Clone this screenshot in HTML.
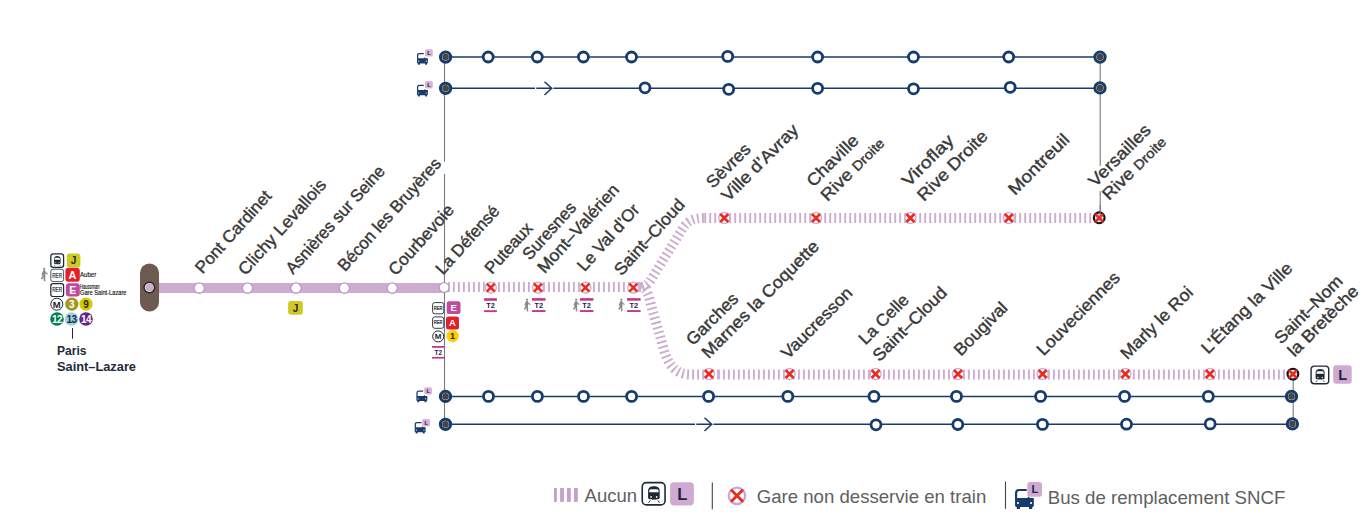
<!DOCTYPE html>
<html><head><meta charset="utf-8"><style>
html,body{margin:0;padding:0;background:#fff;}
svg{display:block;font-family:"Liberation Sans",sans-serif;}
</style></head><body>
<svg width="1372" height="518" viewBox="0 0 1372 518">
<path d="M444.5 57V161.7M444.5 173.9V424M1100.2 57V166M1100.2 191.2V212M1293.2 374V424" stroke="#7a7a7a" stroke-width="1.1" fill="none"/>
<path d="M445 57.1H1100" stroke="#173c6b" stroke-width="1.5" fill="none"/>
<path d="M445 88.3H1100" stroke="#173c6b" stroke-width="1.5" fill="none"/>
<path d="M445 396.4H1292" stroke="#173c6b" stroke-width="1.5" fill="none"/>
<path d="M445 424.3H1292" stroke="#173c6b" stroke-width="1.5" fill="none"/>
<rect x="535.0" y="86.3" width="18.4" height="4" fill="#fff"/>
<path d="M536.3 88.3H551.3M544.5 81.8L551.6999999999999 88.3L544.5 95.0" stroke="#173c6b" stroke-width="1.5" fill="none"/>
<rect x="695.0" y="422.3" width="18.4" height="4" fill="#fff"/>
<path d="M696.3 424.3H711.3M704.5 417.8L711.6999999999999 424.3L704.5 431.0" stroke="#173c6b" stroke-width="1.5" fill="none"/>
<circle cx="488.2" cy="57" r="5" fill="#fff" stroke="#173c6b" stroke-width="2.8"/>
<circle cx="537.3" cy="57" r="5" fill="#fff" stroke="#173c6b" stroke-width="2.8"/>
<circle cx="583.4" cy="57" r="5" fill="#fff" stroke="#173c6b" stroke-width="2.8"/>
<circle cx="631.5" cy="57" r="5" fill="#fff" stroke="#173c6b" stroke-width="2.8"/>
<circle cx="727.7" cy="56.4" r="5" fill="#fff" stroke="#173c6b" stroke-width="2.8"/>
<circle cx="817.6" cy="57" r="5" fill="#fff" stroke="#173c6b" stroke-width="2.8"/>
<circle cx="913.5" cy="57" r="5" fill="#fff" stroke="#173c6b" stroke-width="2.8"/>
<circle cx="1008.7" cy="57" r="5" fill="#fff" stroke="#173c6b" stroke-width="2.8"/>
<circle cx="645" cy="87.8" r="5" fill="#fff" stroke="#173c6b" stroke-width="2.8"/>
<circle cx="728.7" cy="89.3" r="5" fill="#fff" stroke="#173c6b" stroke-width="2.8"/>
<circle cx="817.6" cy="88.3" r="5" fill="#fff" stroke="#173c6b" stroke-width="2.8"/>
<circle cx="913.5" cy="88.8" r="5" fill="#fff" stroke="#173c6b" stroke-width="2.8"/>
<circle cx="1010.2" cy="87.3" r="5" fill="#fff" stroke="#173c6b" stroke-width="2.8"/>
<circle cx="488.5" cy="396.4" r="5" fill="#fff" stroke="#173c6b" stroke-width="2.8"/>
<circle cx="537.4" cy="396.4" r="5" fill="#fff" stroke="#173c6b" stroke-width="2.8"/>
<circle cx="583.5" cy="396.4" r="5" fill="#fff" stroke="#173c6b" stroke-width="2.8"/>
<circle cx="631.6" cy="396.4" r="5" fill="#fff" stroke="#173c6b" stroke-width="2.8"/>
<circle cx="708.6" cy="396.4" r="5" fill="#fff" stroke="#173c6b" stroke-width="2.8"/>
<circle cx="787.8" cy="396.4" r="5" fill="#fff" stroke="#173c6b" stroke-width="2.8"/>
<circle cx="874" cy="396.4" r="5" fill="#fff" stroke="#173c6b" stroke-width="2.8"/>
<circle cx="956.5" cy="396.4" r="5" fill="#fff" stroke="#173c6b" stroke-width="2.8"/>
<circle cx="1040.6" cy="396.4" r="5" fill="#fff" stroke="#173c6b" stroke-width="2.8"/>
<circle cx="1124.6" cy="396.4" r="5" fill="#fff" stroke="#173c6b" stroke-width="2.8"/>
<circle cx="1208.3" cy="396.4" r="5" fill="#fff" stroke="#173c6b" stroke-width="2.8"/>
<circle cx="876" cy="424.8" r="5" fill="#fff" stroke="#173c6b" stroke-width="2.8"/>
<circle cx="957.8" cy="424.5" r="5" fill="#fff" stroke="#173c6b" stroke-width="2.8"/>
<circle cx="1042.5" cy="424.4" r="5" fill="#fff" stroke="#173c6b" stroke-width="2.8"/>
<circle cx="1126.5" cy="424.2" r="5" fill="#fff" stroke="#173c6b" stroke-width="2.8"/>
<circle cx="1210.2" cy="423.9" r="5" fill="#fff" stroke="#173c6b" stroke-width="2.8"/>
<circle cx="445.6" cy="57.1" r="5.1" fill="#fff" stroke="#173c6b" stroke-width="3.1"/>
<circle cx="445.6" cy="57.1" r="3.3" fill="#454545"/>
<circle cx="445.6" cy="88.3" r="5.1" fill="#fff" stroke="#173c6b" stroke-width="3.1"/>
<circle cx="445.6" cy="88.3" r="3.3" fill="#454545"/>
<circle cx="1100" cy="57.1" r="5.1" fill="#fff" stroke="#173c6b" stroke-width="3.1"/>
<circle cx="1100" cy="57.1" r="3.3" fill="#454545"/>
<circle cx="1100" cy="87.9" r="5.1" fill="#fff" stroke="#173c6b" stroke-width="3.1"/>
<circle cx="1100" cy="87.9" r="3.3" fill="#454545"/>
<circle cx="445.5" cy="396.4" r="5.1" fill="#fff" stroke="#173c6b" stroke-width="3.1"/>
<circle cx="445.5" cy="396.4" r="3.3" fill="#454545"/>
<circle cx="445.5" cy="424.3" r="5.1" fill="#fff" stroke="#173c6b" stroke-width="3.1"/>
<circle cx="445.5" cy="424.3" r="3.3" fill="#454545"/>
<circle cx="1291.5" cy="396.4" r="5.1" fill="#fff" stroke="#173c6b" stroke-width="3.1"/>
<circle cx="1291.5" cy="396.4" r="3.3" fill="#454545"/>
<circle cx="1292.4" cy="423.9" r="5.1" fill="#fff" stroke="#173c6b" stroke-width="3.1"/>
<circle cx="1292.4" cy="423.9" r="3.3" fill="#454545"/>
<path d="M155 288H444" stroke="#ceacd1" stroke-width="10" fill="none"/>
<path d="M447.95 287H640" stroke="#ceacd1" stroke-width="9.8" stroke-dasharray="1.9 3.1" fill="none"/>
<path d="M637 287.3C644 287.3 647.5 285 650.5 280.5L683 228C687.5 221 694 218 704.25 218" stroke="#ceacd1" stroke-width="9.8" stroke-dasharray="1.9 3.1" fill="none"/>
<path d="M704.25 218H1096" stroke="#ceacd1" stroke-width="9.8" stroke-dasharray="1.9 3.1" fill="none"/>
<path d="M640 287.3C647 287.3 649 297 651 305L664 350C668 364 675 374.4 690 374.4H717.95" stroke="#ceacd1" stroke-width="10" stroke-dasharray="1.9 3.1" fill="none"/>
<path d="M717.95 374.4H1288" stroke="#ceacd1" stroke-width="10" stroke-dasharray="1.9 3.1" fill="none"/>
<rect x="140" y="263.5" width="19" height="48" rx="9.5" fill="#6e5a4f"/>
<circle cx="149.3" cy="287.5" r="4.6" fill="#ceacd1" stroke="#fff" stroke-width="1"/>
<circle cx="149.3" cy="287.5" r="5.3" fill="none" stroke="#2b2b2b" stroke-width="1.5"/>
<circle cx="199.2" cy="288.1" r="5.15" fill="#fff" stroke="#bf98ca" stroke-width="1.3"/>
<circle cx="247.5" cy="288.1" r="5.15" fill="#fff" stroke="#bf98ca" stroke-width="1.3"/>
<circle cx="296" cy="288.1" r="5.15" fill="#fff" stroke="#bf98ca" stroke-width="1.3"/>
<circle cx="344.3" cy="288.1" r="5.15" fill="#fff" stroke="#bf98ca" stroke-width="1.3"/>
<circle cx="392.2" cy="288.1" r="5.15" fill="#fff" stroke="#bf98ca" stroke-width="1.3"/>
<circle cx="444.1" cy="287.6" r="4.9" fill="#fff" stroke="#bf98ca" stroke-width="1.3"/>
<circle cx="490.8" cy="287.7" r="5.5" fill="#fff" stroke="#cdb0da" stroke-width="1.4"/>
<path d="M486.8 283.7L494.8 291.7M494.8 283.7L486.8 291.7" stroke="#ec2a1c" stroke-width="2.6"/>
<circle cx="538" cy="287.7" r="5.5" fill="#fff" stroke="#cdb0da" stroke-width="1.4"/>
<path d="M534.0 283.7L542.0 291.7M542.0 283.7L534.0 291.7" stroke="#ec2a1c" stroke-width="2.6"/>
<circle cx="585.4" cy="287.7" r="5.5" fill="#fff" stroke="#cdb0da" stroke-width="1.4"/>
<path d="M581.4 283.7L589.4 291.7M589.4 283.7L581.4 291.7" stroke="#ec2a1c" stroke-width="2.6"/>
<circle cx="633.3" cy="287.7" r="5.5" fill="#fff" stroke="#cdb0da" stroke-width="1.4"/>
<path d="M629.3 283.7L637.3 291.7M637.3 283.7L629.3 291.7" stroke="#ec2a1c" stroke-width="2.6"/>
<circle cx="724.3" cy="218" r="5.5" fill="#fff" stroke="#cdb0da" stroke-width="1.4"/>
<path d="M720.3 214.0L728.3 222.0M728.3 214.0L720.3 222.0" stroke="#ec2a1c" stroke-width="2.6"/>
<circle cx="816" cy="218" r="5.5" fill="#fff" stroke="#cdb0da" stroke-width="1.4"/>
<path d="M812.0 214.0L820.0 222.0M820.0 214.0L812.0 222.0" stroke="#ec2a1c" stroke-width="2.6"/>
<circle cx="910.4" cy="218" r="5.5" fill="#fff" stroke="#cdb0da" stroke-width="1.4"/>
<path d="M906.4 214.0L914.4 222.0M914.4 214.0L906.4 222.0" stroke="#ec2a1c" stroke-width="2.6"/>
<circle cx="1008.8" cy="218" r="5.5" fill="#fff" stroke="#cdb0da" stroke-width="1.4"/>
<path d="M1004.8 214.0L1012.8 222.0M1012.8 214.0L1004.8 222.0" stroke="#ec2a1c" stroke-width="2.6"/>
<circle cx="1099.2" cy="217.8" r="5.4" fill="#e0d4ee" stroke="#111" stroke-width="2.1"/>
<path d="M1095.2 213.8L1103.2 221.8M1103.2 213.8L1095.2 221.8" stroke="#ec2a1c" stroke-width="2.6"/>
<path d="M1100.2 205V217" stroke="#7a7a7a" stroke-width="1.1"/>
<circle cx="709" cy="374" r="5.5" fill="#fff" stroke="#cdb0da" stroke-width="1.4"/>
<path d="M705.0 370.0L713.0 378.0M713.0 370.0L705.0 378.0" stroke="#ec2a1c" stroke-width="2.6"/>
<circle cx="789.6" cy="374" r="5.5" fill="#fff" stroke="#cdb0da" stroke-width="1.4"/>
<path d="M785.6 370.0L793.6 378.0M793.6 370.0L785.6 378.0" stroke="#ec2a1c" stroke-width="2.6"/>
<circle cx="875.6" cy="374" r="5.5" fill="#fff" stroke="#cdb0da" stroke-width="1.4"/>
<path d="M871.6 370.0L879.6 378.0M879.6 370.0L871.6 378.0" stroke="#ec2a1c" stroke-width="2.6"/>
<circle cx="958" cy="374" r="5.5" fill="#fff" stroke="#cdb0da" stroke-width="1.4"/>
<path d="M954.0 370.0L962.0 378.0M962.0 370.0L954.0 378.0" stroke="#ec2a1c" stroke-width="2.6"/>
<circle cx="1042.6" cy="374" r="5.5" fill="#fff" stroke="#cdb0da" stroke-width="1.4"/>
<path d="M1038.6 370.0L1046.6 378.0M1046.6 370.0L1038.6 378.0" stroke="#ec2a1c" stroke-width="2.6"/>
<circle cx="1125.4" cy="374" r="5.5" fill="#fff" stroke="#cdb0da" stroke-width="1.4"/>
<path d="M1121.4 370.0L1129.4 378.0M1129.4 370.0L1121.4 378.0" stroke="#ec2a1c" stroke-width="2.6"/>
<circle cx="1209.9" cy="374" r="5.5" fill="#fff" stroke="#cdb0da" stroke-width="1.4"/>
<path d="M1205.9 370.0L1213.9 378.0M1213.9 370.0L1205.9 378.0" stroke="#ec2a1c" stroke-width="2.6"/>
<circle cx="1292.9" cy="374.1" r="5.4" fill="#e0d4ee" stroke="#111" stroke-width="2.1"/>
<path d="M1288.9 370.1L1296.9 378.1M1296.9 370.1L1288.9 378.1" stroke="#ec2a1c" stroke-width="2.6"/>
<g fill="#383838" stroke="#383838" stroke-width="0.4" font-size="17">
<text id="L_pont" transform="translate(202.5 274.5) rotate(-48)" textLength="104.62" lengthAdjust="spacingAndGlyphs">Pont Cardinet</text>
<text id="L_clichy" transform="translate(245.5 276.2) rotate(-48)" textLength="122.03" lengthAdjust="spacingAndGlyphs">Clichy Levallois</text>
<text id="L_asn" transform="translate(293 275) rotate(-48)" textLength="138.66" lengthAdjust="spacingAndGlyphs">Asnières sur Seine</text>
<text id="L_becon" transform="translate(345 272.2) rotate(-48)" textLength="145.16" lengthAdjust="spacingAndGlyphs">Bécon les Bruyères</text>
<text id="L_courb" transform="translate(395.7 276.4) rotate(-48)" textLength="88.41" lengthAdjust="spacingAndGlyphs">Courbevoie</text>
<text id="L_lad" transform="translate(443 275.5) rotate(-48)" textLength="85.74" lengthAdjust="spacingAndGlyphs">La Défensé</text>
<text id="L_put" transform="translate(492 275) rotate(-48)" textLength="62.12" lengthAdjust="spacingAndGlyphs">Puteaux</text>
<text id="L_sur" transform="translate(529.7 260.9) rotate(-48)" textLength="70.76" lengthAdjust="spacingAndGlyphs">Suresnes</text>
<text id="L_mont" transform="translate(544.7 274.2) rotate(-48)" textLength="112.79" lengthAdjust="spacingAndGlyphs">Mont–Valérien</text>
<text id="L_val" transform="translate(584.6 272.2) rotate(-48)" textLength="83.44" lengthAdjust="spacingAndGlyphs">Le Val d’Or</text>
<text id="L_sc" transform="translate(621.5 276.5) rotate(-48)" textLength="95.92" lengthAdjust="spacingAndGlyphs">Saint–Cloud</text>
<text id="L_sev" transform="translate(713.1 188.9) rotate(-45)" textLength="54.45" lengthAdjust="spacingAndGlyphs">Sèvres</text>
<text id="L_vil" transform="translate(728.3 202.3) rotate(-45)" textLength="100.71" lengthAdjust="spacingAndGlyphs">Ville d’Avray</text>
<text id="L_cha" transform="translate(813.4 187.8) rotate(-45)" textLength="65.67" lengthAdjust="spacingAndGlyphs">Chaville</text>
<text id="L_rd1" transform="translate(827.6 201.9) rotate(-45)" textLength="81.67" lengthAdjust="spacingAndGlyphs"><tspan font-size="17">Rive </tspan><tspan font-size="13.5">Droite</tspan></text>
<text id="L_vir" transform="translate(908.8 187.5) rotate(-45)" textLength="65.16" lengthAdjust="spacingAndGlyphs">Viroflay</text>
<text id="L_rd2" transform="translate(924.1 201.9) rotate(-45)" textLength="91.49" lengthAdjust="spacingAndGlyphs">Rive Droite</text>
<text id="L_montr" transform="translate(1015 196) rotate(-45)" textLength="78.49" lengthAdjust="spacingAndGlyphs">Montreuil</text>
<text id="L_ver" transform="translate(1095.2 187.8) rotate(-45)" textLength="80.22" lengthAdjust="spacingAndGlyphs">Versailles</text>
<text id="L_rd3" transform="translate(1109.1 200.9) rotate(-45)" textLength="81.83" lengthAdjust="spacingAndGlyphs"><tspan font-size="17">Rive </tspan><tspan font-size="13.5">Droite</tspan></text>
<text id="L_gar" transform="translate(693.1 346.2) rotate(-45)" textLength="65.58" lengthAdjust="spacingAndGlyphs">Garches</text>
<text id="L_mar" transform="translate(708.4 359.2) rotate(-45)" textLength="158.07" lengthAdjust="spacingAndGlyphs">Marnes la Coquette</text>
<text id="L_vau" transform="translate(788 359.7) rotate(-45)" textLength="92.78" lengthAdjust="spacingAndGlyphs">Vaucresson</text>
<text id="L_lac" transform="translate(865.4 345.4) rotate(-45)" textLength="62.90" lengthAdjust="spacingAndGlyphs">La Celle</text>
<text id="L_sc2" transform="translate(879.4 362.2) rotate(-45)" textLength="96.95" lengthAdjust="spacingAndGlyphs">Saint–Cloud</text>
<text id="L_bou" transform="translate(960.8 356.7) rotate(-45)" textLength="67.58" lengthAdjust="spacingAndGlyphs">Bougival</text>
<text id="L_lou" transform="translate(1043.4 356.5) rotate(-45)" textLength="109.89" lengthAdjust="spacingAndGlyphs">Louveciennes</text>
<text id="L_marly" transform="translate(1127.3 360.3) rotate(-45)" textLength="94.49" lengthAdjust="spacingAndGlyphs">Marly le Roi</text>
<text id="L_eta" transform="translate(1208 354.8) rotate(-45)" textLength="120.98" lengthAdjust="spacingAndGlyphs">L’Étang la Ville</text>
<text id="L_snom" transform="translate(1281.2 344.8) rotate(-45)" textLength="88.49" lengthAdjust="spacingAndGlyphs">Saint–Nom</text>
<text id="L_bret" transform="translate(1294.5 357.6) rotate(-45)" textLength="92.34" lengthAdjust="spacingAndGlyphs">la Bretèche</text>
</g>
<g transform="translate(416.5 53) scale(1.0)"><path d="M1.1 5.6V2.4Q1.1 0.6 2.9 0.6H7.3" stroke="#173c6b" stroke-width="1.25" fill="none"/><path d="M0.5 5.3H7.6L8.3 4.3L9.2 5.3H11.4V9.6Q11.4 10.4 10.6 10.4H1.3Q0.5 10.4 0.5 9.6Z" fill="#173c6b"/><rect x="1.5" y="9.6" width="1.9" height="2.1" rx="0.4" fill="#173c6b"/><rect x="8.6" y="9.6" width="1.9" height="2.1" rx="0.4" fill="#173c6b"/><circle cx="2.2" cy="8.2" r="0.6" fill="#fff"/><circle cx="9.8" cy="8.2" r="0.6" fill="#fff"/></g>
<g transform="translate(416.5 84.8) scale(1.0)"><path d="M1.1 5.6V2.4Q1.1 0.6 2.9 0.6H7.3" stroke="#173c6b" stroke-width="1.25" fill="none"/><path d="M0.5 5.3H7.6L8.3 4.3L9.2 5.3H11.4V9.6Q11.4 10.4 10.6 10.4H1.3Q0.5 10.4 0.5 9.6Z" fill="#173c6b"/><rect x="1.5" y="9.6" width="1.9" height="2.1" rx="0.4" fill="#173c6b"/><rect x="8.6" y="9.6" width="1.9" height="2.1" rx="0.4" fill="#173c6b"/><circle cx="2.2" cy="8.2" r="0.6" fill="#fff"/><circle cx="9.8" cy="8.2" r="0.6" fill="#fff"/></g>
<g transform="translate(415.9 390.6) scale(1.0)"><path d="M1.1 5.6V2.4Q1.1 0.6 2.9 0.6H7.3" stroke="#173c6b" stroke-width="1.25" fill="none"/><path d="M0.5 5.3H7.6L8.3 4.3L9.2 5.3H11.4V9.6Q11.4 10.4 10.6 10.4H1.3Q0.5 10.4 0.5 9.6Z" fill="#173c6b"/><rect x="1.5" y="9.6" width="1.9" height="2.1" rx="0.4" fill="#173c6b"/><rect x="8.6" y="9.6" width="1.9" height="2.1" rx="0.4" fill="#173c6b"/><circle cx="2.2" cy="8.2" r="0.6" fill="#fff"/><circle cx="9.8" cy="8.2" r="0.6" fill="#fff"/></g>
<g transform="translate(414.2 421.9) scale(1.0)"><path d="M1.1 5.6V2.4Q1.1 0.6 2.9 0.6H7.3" stroke="#173c6b" stroke-width="1.25" fill="none"/><path d="M0.5 5.3H7.6L8.3 4.3L9.2 5.3H11.4V9.6Q11.4 10.4 10.6 10.4H1.3Q0.5 10.4 0.5 9.6Z" fill="#173c6b"/><rect x="1.5" y="9.6" width="1.9" height="2.1" rx="0.4" fill="#173c6b"/><rect x="8.6" y="9.6" width="1.9" height="2.1" rx="0.4" fill="#173c6b"/><circle cx="2.2" cy="8.2" r="0.6" fill="#fff"/><circle cx="9.8" cy="8.2" r="0.6" fill="#fff"/></g>
<rect x="425" y="49.2" width="7.8" height="7.4" rx="1.6" fill="#d8b4dc"/>
<text x="429.10" y="55.13" font-size="6.2" font-weight="bold" fill="#1e2838" text-anchor="middle">L</text>
<rect x="425" y="81.0" width="7.8" height="7.4" rx="1.6" fill="#d8b4dc"/>
<text x="429.10" y="86.93" font-size="6.2" font-weight="bold" fill="#1e2838" text-anchor="middle">L</text>
<rect x="424.2" y="387.2" width="7.8" height="7.4" rx="1.6" fill="#d8b4dc"/>
<text x="428.30" y="393.13" font-size="6.2" font-weight="bold" fill="#1e2838" text-anchor="middle">L</text>
<rect x="422.2" y="419.0" width="7.8" height="7.4" rx="1.6" fill="#d8b4dc"/>
<text x="426.30" y="424.93" font-size="6.2" font-weight="bold" fill="#1e2838" text-anchor="middle">L</text>
<g transform="translate(1310.5 365.5) scale(0.7737 0.7975)"><rect x="0.75" y="0.75" width="22.8" height="22.2" rx="4.2" fill="#fff" stroke="#1e2838" stroke-width="1.81"/><path d="M6.6 9.2C6.6 5.6 9 4.4 12.4 4.4C15.8 4.4 18.2 5.6 18.2 9.2V15.6Q18.2 17.3 16.5 17.3H8.3Q6.6 17.3 6.6 15.6Z" fill="#1e2838"/><path d="M7.9 8.3Q8.3 7.3 9.5 7.3H15.3Q16.5 7.3 16.9 8.3L17.1 10.4H7.7Z" fill="#fff"/><circle cx="9.6" cy="15" r="0.85" fill="#fff"/><circle cx="15.2" cy="15" r="0.85" fill="#fff"/><rect x="10.2" y="17.2" width="4.6" height="0.9" fill="#777"/><path d="M8.6 18.6L7.1 20.8M16.4 18.6L17.9 20.8" stroke="#1e2838" stroke-width="1"/></g>
<rect x="1333.2" y="365.2" width="18.5" height="18.5" rx="3" fill="#cfaad2"/>
<text x="1342.65" y="379.67" font-size="14.5" font-weight="bold" fill="#1e2838" text-anchor="middle">L</text>
<rect x="288.1" y="301" width="14.8" height="13.8" rx="3" fill="#cfc825"/>
<text x="295.50" y="311.50" font-size="10" font-weight="bold" fill="#1e2838" text-anchor="middle">J</text>
<rect x="484.1" y="298.2" width="12.8" height="2.6" fill="#c2378f"/>
<rect x="484.1" y="310.2" width="12.8" height="1.9" fill="#c2378f"/>
<text x="490.50" y="307.9" font-size="6.8" font-weight="bold" fill="#1e2838" text-anchor="middle" textLength="8.6" lengthAdjust="spacingAndGlyphs">T2</text>
<rect x="532" y="298.1" width="13.5" height="2.6" fill="#c2378f"/>
<rect x="532" y="310.1" width="13.5" height="1.9" fill="#c2378f"/>
<text x="538.75" y="307.8" font-size="6.8" font-weight="bold" fill="#1e2838" text-anchor="middle" textLength="8.6" lengthAdjust="spacingAndGlyphs">T2</text>
<g transform="translate(523.8 298.4) scale(1.0)" stroke="#8a8a8a" fill="none" stroke-linecap="round" stroke-linejoin="round"><circle cx="3.3" cy="1.2" r="1.1" fill="#8a8a8a" stroke="none"/><path d="M3.2 3.6L3 7.6" stroke-width="2.5"/><path d="M2.8 7.4L1 10.4" stroke-width="1.6"/><path d="M3.3 7.4L3.6 12.3" stroke-width="1.6"/><path d="M3.8 4.2L6 5.9" stroke-width="1.2"/><path d="M2.3 4.3L1.2 6.8" stroke-width="1.2"/></g>
<rect x="579.9" y="298.1" width="13.5" height="2.6" fill="#c2378f"/>
<rect x="579.9" y="310.1" width="13.5" height="1.9" fill="#c2378f"/>
<text x="586.65" y="307.8" font-size="6.8" font-weight="bold" fill="#1e2838" text-anchor="middle" textLength="8.6" lengthAdjust="spacingAndGlyphs">T2</text>
<g transform="translate(572.9 298.4) scale(1.0)" stroke="#8a8a8a" fill="none" stroke-linecap="round" stroke-linejoin="round"><circle cx="3.3" cy="1.2" r="1.1" fill="#8a8a8a" stroke="none"/><path d="M3.2 3.6L3 7.6" stroke-width="2.5"/><path d="M2.8 7.4L1 10.4" stroke-width="1.6"/><path d="M3.3 7.4L3.6 12.3" stroke-width="1.6"/><path d="M3.8 4.2L6 5.9" stroke-width="1.2"/><path d="M2.3 4.3L1.2 6.8" stroke-width="1.2"/></g>
<rect x="627.1" y="298.1" width="13.5" height="2.6" fill="#c2378f"/>
<rect x="627.1" y="310.1" width="13.5" height="1.9" fill="#c2378f"/>
<text x="633.85" y="307.8" font-size="6.8" font-weight="bold" fill="#1e2838" text-anchor="middle" textLength="8.6" lengthAdjust="spacingAndGlyphs">T2</text>
<g transform="translate(618.1 298.4) scale(1.0)" stroke="#8a8a8a" fill="none" stroke-linecap="round" stroke-linejoin="round"><circle cx="3.3" cy="1.2" r="1.1" fill="#8a8a8a" stroke="none"/><path d="M3.2 3.6L3 7.6" stroke-width="2.5"/><path d="M2.8 7.4L1 10.4" stroke-width="1.6"/><path d="M3.3 7.4L3.6 12.3" stroke-width="1.6"/><path d="M3.8 4.2L6 5.9" stroke-width="1.2"/><path d="M2.3 4.3L1.2 6.8" stroke-width="1.2"/></g>
<rect x="432.6" y="302.6" width="11.2" height="11.2" rx="2.2" fill="#fff" stroke="#1e2838" stroke-width="0.9"/>
<text x="438.20" y="310.00" font-size="5" fill="#1e2838" stroke="#1e2838" stroke-width="0.2" text-anchor="middle" textLength="8.7" lengthAdjust="spacingAndGlyphs">RER</text>
<rect x="446.7" y="301.3" width="13.8" height="12.6" rx="2.5" fill="#c04b9d"/>
<text x="453.60" y="311.02" font-size="9.5" font-weight="bold" fill="#fff" text-anchor="middle">E</text>
<rect x="432.6" y="316.9" width="11.2" height="11.4" rx="2.2" fill="#fff" stroke="#1e2838" stroke-width="0.9"/>
<text x="438.20" y="324.40" font-size="5" fill="#1e2838" stroke="#1e2838" stroke-width="0.2" text-anchor="middle" textLength="8.7" lengthAdjust="spacingAndGlyphs">RER</text>
<rect x="446" y="316.6" width="13" height="12.9" rx="2.5" fill="#e3202a"/>
<text x="452.50" y="326.47" font-size="9.5" font-weight="bold" fill="#fff" text-anchor="middle">A</text>
<circle cx="438.2" cy="336.4" r="5.5" fill="#fff" stroke="#1e2838" stroke-width="1"/>
<text x="438.20" y="339.28" font-size="8" font-weight="bold" fill="#1e2838" text-anchor="middle">M</text>
<circle cx="452.6" cy="336.1" r="6.2" fill="#ffcd00"/>
<text x="452.60" y="339.34" font-size="9" font-weight="bold" fill="#1e2838" text-anchor="middle">1</text>
<rect x="432" y="346" width="12.6" height="1.8" fill="#c2378f"/><rect x="432" y="356.9" width="12.6" height="1.7" fill="#c2378f"/>
<text x="438.3" y="355.1" font-size="6.4" font-weight="bold" fill="#1e2838" text-anchor="middle">T2</text>
<g transform="translate(50.4 253.4) scale(0.5597 0.6076)"><rect x="0.75" y="0.75" width="22.8" height="22.2" rx="4.2" fill="#fff" stroke="#1e2838" stroke-width="2.32"/><path d="M6.6 9.2C6.6 5.6 9 4.4 12.4 4.4C15.8 4.4 18.2 5.6 18.2 9.2V15.6Q18.2 17.3 16.5 17.3H8.3Q6.6 17.3 6.6 15.6Z" fill="#1e2838"/><path d="M7.9 8.3Q8.3 7.3 9.5 7.3H15.3Q16.5 7.3 16.9 8.3L17.1 10.4H7.7Z" fill="#fff"/><circle cx="9.6" cy="15" r="0.85" fill="#fff"/><circle cx="15.2" cy="15" r="0.85" fill="#fff"/><rect x="10.2" y="17.2" width="4.6" height="0.9" fill="#777"/><path d="M8.6 18.6L7.1 20.8M16.4 18.6L17.9 20.8" stroke="#1e2838" stroke-width="1"/></g>
<rect x="66.8" y="253.4" width="13.6" height="14.1" rx="3" fill="#cfc825"/>
<text x="73.60" y="264.05" font-size="10" font-weight="bold" fill="#1e2838" text-anchor="middle">J</text>
<g transform="translate(40.8 267.6) scale(1.05)" stroke="#8a8a8a" fill="none" stroke-linecap="round" stroke-linejoin="round"><circle cx="3.3" cy="1.2" r="1.1" fill="#8a8a8a" stroke="none"/><path d="M3.2 3.6L3 7.6" stroke-width="2.5"/><path d="M2.8 7.4L1 10.4" stroke-width="1.6"/><path d="M3.3 7.4L3.6 12.3" stroke-width="1.6"/><path d="M3.8 4.2L6 5.9" stroke-width="1.2"/><path d="M2.3 4.3L1.2 6.8" stroke-width="1.2"/></g>
<rect x="50.8" y="269.2" width="12.8" height="12.4" rx="2.2" fill="#fff" stroke="#1e2838" stroke-width="0.8"/>
<text x="57.20" y="277.78" font-size="6.6" fill="#1e2838" stroke="#1e2838" stroke-width="0.2" text-anchor="middle" textLength="10.0" lengthAdjust="spacingAndGlyphs">RER</text>
<rect x="65.4" y="267.8" width="14.4" height="14" rx="3" fill="#e3202a"/>
<text x="72.60" y="278.76" font-size="11" font-weight="bold" fill="#fff" text-anchor="middle">A</text>
<text x="80" y="276.8" font-size="7.2" fill="#111" stroke="#111" stroke-width="0.15" textLength="16.3" lengthAdjust="spacingAndGlyphs">Auber</text>
<rect x="50.8" y="283.7" width="12.8" height="12.8" rx="2.2" fill="#fff" stroke="#1e2838" stroke-width="1.2"/>
<text x="57.20" y="292.48" font-size="6.6" fill="#1e2838" stroke="#1e2838" stroke-width="0.2" text-anchor="middle" textLength="10.0" lengthAdjust="spacingAndGlyphs">RER</text>
<rect x="65.9" y="283.3" width="13.9" height="13.1" rx="3" fill="#c04b9d"/>
<text x="72.85" y="293.63" font-size="10.5" font-weight="bold" fill="#fff" text-anchor="middle">E</text>
<text x="80" y="288.7" font-size="6.9" fill="#111" stroke="#111" stroke-width="0.15" textLength="19.6" lengthAdjust="spacingAndGlyphs">Haussman</text>
<text x="80" y="295.4" font-size="6.9" fill="#111" stroke="#111" stroke-width="0.15" textLength="46.5" lengthAdjust="spacingAndGlyphs">Gare Saint-Lazare</text>
<circle cx="56.8" cy="304.2" r="6" fill="#fff" stroke="#1e2838" stroke-width="1"/>
<text x="56.80" y="307.62" font-size="9.5" font-weight="bold" fill="#1e2838" text-anchor="middle">M</text>
<circle cx="71.8" cy="304.1" r="6.6" fill="#9f9825"/>
<text x="71.80" y="307.70" font-size="10" font-weight="bold" fill="#fff" text-anchor="middle">3</text>
<circle cx="86" cy="304.1" r="6.6" fill="#d5c900"/>
<text x="86.00" y="307.70" font-size="10" font-weight="bold" fill="#1e2838" text-anchor="middle">9</text>
<circle cx="57" cy="319" r="6.8" fill="#00814f"/>
<text x="57.00" y="322.60" font-size="10" font-weight="bold" fill="#fff" text-anchor="middle" letter-spacing="-0.6">12</text>
<circle cx="71.5" cy="319" r="6.8" fill="#98d4e2"/>
<text x="71.50" y="322.60" font-size="10" font-weight="bold" fill="#1e2838" text-anchor="middle" letter-spacing="-0.6">13</text>
<circle cx="86" cy="319" r="6.8" fill="#662483"/>
<text x="86.00" y="322.60" font-size="10" font-weight="bold" fill="#fff" text-anchor="middle" letter-spacing="-0.6">14</text>
<path d="M72.5 328V338.7" stroke="#1e2838" stroke-width="1"/>
<text x="57" y="355" font-size="13.2" font-weight="bold" fill="#1f2a3a" textLength="29.5" lengthAdjust="spacingAndGlyphs">Paris</text>
<text x="57" y="370.8" font-size="13.2" font-weight="bold" fill="#1f2a3a" textLength="79" lengthAdjust="spacingAndGlyphs">Saint–Lazare</text>
<rect x="554.0" y="488" width="2.9" height="13.9" fill="#c4a1cd"/>
<rect x="560.1" y="488" width="3.8" height="13.9" fill="#c4a1cd"/>
<rect x="567.0" y="488" width="3.8" height="13.9" fill="#c4a1cd"/>
<rect x="574.0" y="488" width="3.8" height="13.9" fill="#c4a1cd"/>
<text x="584.6" y="501.6" font-size="18.6" fill="#606060" textLength="52.5" lengthAdjust="spacingAndGlyphs">Aucun</text>
<g transform="translate(641.5 481.9) scale(1.0000 1.0000)"><rect x="0.75" y="0.75" width="22.8" height="22.2" rx="4.2" fill="#fff" stroke="#1e2838" stroke-width="1.60"/><path d="M6.6 9.2C6.6 5.6 9 4.4 12.4 4.4C15.8 4.4 18.2 5.6 18.2 9.2V15.6Q18.2 17.3 16.5 17.3H8.3Q6.6 17.3 6.6 15.6Z" fill="#1e2838"/><path d="M7.9 8.3Q8.3 7.3 9.5 7.3H15.3Q16.5 7.3 16.9 8.3L17.1 10.4H7.7Z" fill="#fff"/><circle cx="9.6" cy="15" r="0.85" fill="#fff"/><circle cx="15.2" cy="15" r="0.85" fill="#fff"/><rect x="10.2" y="17.2" width="4.6" height="0.9" fill="#777"/><path d="M8.6 18.6L7.1 20.8M16.4 18.6L17.9 20.8" stroke="#1e2838" stroke-width="1"/></g>
<rect x="670.1" y="482.2" width="23.8" height="23.4" rx="4" fill="#cfaad2"/>
<text x="682.20" y="499.88" font-size="16.6" font-weight="bold" fill="#1e2838" text-anchor="middle">L</text>
<path d="M712.3 482.4V509.3M1005.5 481.5V508.8" stroke="#444" stroke-width="1.1"/>
<circle cx="737" cy="495.8" r="8.2" fill="#fff" stroke="#c6a9d6" stroke-width="2.4"/>
<path d="M731 489.8L743 501.8M743 489.8L731 501.8" stroke="#ec2a1c" stroke-width="2.9"/>
<text x="756.7" y="502.5" font-size="18.6" fill="#606060" textLength="229.6" lengthAdjust="spacingAndGlyphs">Gare non desservie en train</text>
<g transform="translate(1014.2 489) scale(1.72)"><path d="M1.1 5.6V2.4Q1.1 0.6 2.9 0.6H7.3" stroke="#173c6b" stroke-width="1.25" fill="none"/><path d="M0.5 5.3H7.6L8.3 4.3L9.2 5.3H11.4V9.6Q11.4 10.4 10.6 10.4H1.3Q0.5 10.4 0.5 9.6Z" fill="#173c6b"/><rect x="1.5" y="9.6" width="1.9" height="2.1" rx="0.4" fill="#173c6b"/><rect x="8.6" y="9.6" width="1.9" height="2.1" rx="0.4" fill="#173c6b"/><circle cx="2.2" cy="8.2" r="0.6" fill="#fff"/><circle cx="9.8" cy="8.2" r="0.6" fill="#fff"/></g>
<rect x="1027.3" y="482.1" width="14.7" height="14.7" rx="2.8" fill="#cfaad2"/>
<text x="1034.85" y="493.41" font-size="11" font-weight="bold" fill="#1e2838" text-anchor="middle">L</text>
<text x="1047.7" y="504" font-size="18.6" fill="#606060" textLength="237.7" lengthAdjust="spacingAndGlyphs">Bus de remplacement SNCF</text>
</svg>
</body></html>
